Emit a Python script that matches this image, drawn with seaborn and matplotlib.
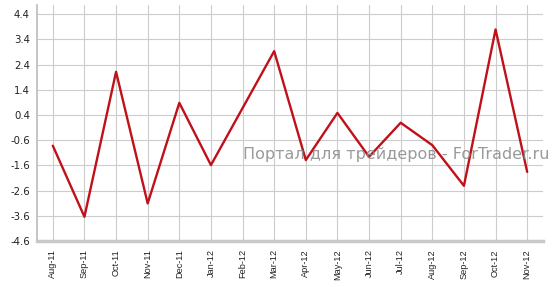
import matplotlib
matplotlib.use("Agg")
import matplotlib.pyplot as plt
import seaborn as sns
import pandas as pd

months = ["Aug-11", "Sep-11", "Oct-11", "Nov-11", "Dec-11", "Jan-12", "Feb-12", "Mar-12",
          "Apr-12", "May-12", "Jun-12", "Jul-12", "Aug-12", "Sep-12", "Oct-12", "Nov-12"]
values = [-0.82, -3.64, 2.11, -3.11, 0.88, -1.59, 0.67, 2.93,
          -1.39, 0.48, -1.26, 0.09, -0.80, -2.41, 3.79, -1.86]
yticks = [4.4, 3.4, 2.4, 1.4, 0.4, -0.6, -1.6, -2.6, -3.6, -4.6]
watermark = "Портал для трейдеров - ForTrader.ru"

sns.set_style("white")
plt.rcParams['font.family'] = ['DejaVu Sans']

df = pd.DataFrame({"pos": range(len(months)), "value": values})

fig = plt.figure(figsize=(5.58, 2.87), dpi=100)
ax = fig.add_axes([37/558, 46/287, (543-37)/558, (282-46)/287])

sns.lineplot(data=df, x="pos", y="value", ax=ax, color="#c0101a", linewidth=1.7, zorder=3)

ax.set_xlim(-0.5, len(months) - 0.5)
ax.set_ylim(-4.6, 4.76)
ax.set_yticks(yticks)
ax.set_yticklabels([f"{t:.1f}" for t in yticks], fontsize=7.3, color="#222222")
ax.set_xticks(range(len(months)))
ax.set_xticklabels(months, rotation=90, fontsize=6.6, color="#222222",
                   family=['Liberation Sans', 'DejaVu Sans'])
ax.set_xlabel("")
ax.set_ylabel("")

ax.grid(True, color="#cccccc", linewidth=0.8, zorder=0)
ax.set_axisbelow(True)
for s in ["top", "right"]:
    ax.spines[s].set_visible(False)
ax.spines["left"].set_color("#bbbbbb")
ax.spines["left"].set_linewidth(1.2)
ax.spines["bottom"].set_color("#c8c8c8")
ax.spines["bottom"].set_linewidth(2.5)
ax.tick_params(axis="y", length=3, width=0.8, color="#bbbbbb", pad=2)
ax.tick_params(axis="x", length=3, width=0.8, color="#bbbbbb", pad=3)

fig.text(396/558, 1 - 154/287, watermark, fontsize=11.5, color="#888888", alpha=0.85,
         ha="center", va="center", zorder=5, family=['DejaVu Sans'])

fig.savefig("out.png", dpi=100)
